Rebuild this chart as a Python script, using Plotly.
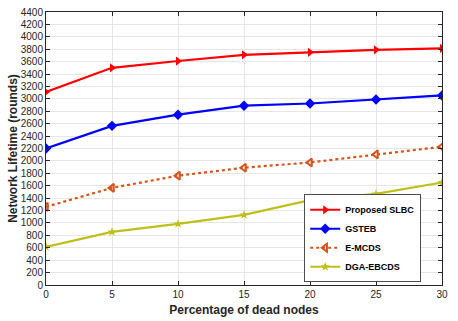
import plotly.graph_objects as go

x_vals = [0, 5, 10, 15, 20, 25, 30]
slbc = [3110, 3500, 3610, 3710, 3750, 3790, 3815]
gsteb = [2200, 2565, 2745, 2890, 2925, 2990, 3055]
emcds = [1260, 1565, 1762, 1890, 1975, 2105, 2228]
dga = [615, 855, 985, 1130, 1368, 1468, 1652]
y_ticks = list(range(0, 4401, 200))
x_ticks = [0, 5, 10, 15, 20, 25, 30]

font = "Liberation Sans, Arial, sans-serif"
fig = go.Figure()
fig.add_trace(go.Scatter(x=x_vals, y=slbc, name="Proposed SLBC", mode="lines+markers",
                         line=dict(color="#FF0000", width=2.2),
                         marker=dict(symbol="triangle-right", size=8, color="#FF0000")))
fig.add_trace(go.Scatter(x=x_vals, y=gsteb, name="GSTEB", mode="lines+markers",
                         line=dict(color="#0000FF", width=2.2),
                         marker=dict(symbol="diamond", size=8, color="#0000FF")))
fig.add_trace(go.Scatter(x=x_vals, y=emcds, name="E-MCDS", mode="lines+markers",
                         line=dict(color="#D95319", width=2.2, dash="dot"),
                         marker=dict(symbol="triangle-left-open", size=7, color="#D95319",
                                     line=dict(width=2))))
fig.add_trace(go.Scatter(x=x_vals, y=dga, name="DGA-EBCDS", mode="lines+markers",
                         line=dict(color="#BFBF1A", width=2.2),
                         marker=dict(symbol="star", size=7, color="#BFBF1A")))

axis_common = dict(showline=True, linecolor="#262626", linewidth=1, mirror="ticks",
                   ticks="inside", ticklen=4, tickcolor="#262626", automargin=False,
                   showgrid=True, gridcolor="#E6E6E6", gridwidth=1, zeroline=False,
                   tickfont=dict(family=font, size=10, color="#262626"))
fig.update_xaxes(range=[0, 30], tickvals=x_ticks,
                 title=dict(text="<b>Percentage of dead nodes</b>",
                            font=dict(family=font, size=12, color="#262626"), standoff=6),
                 tickprefix="<b>", ticksuffix="</b>", **axis_common)
fig.update_yaxes(range=[0, 4400], tickvals=y_ticks,
                 title=dict(text="<b>Network Lifetime (rounds)</b>",
                            font=dict(family=font, size=12, color="#262626"), standoff=0),
                 tickprefix="<b>", ticksuffix="</b>", **axis_common)
fig.update_layout(width=458, height=321, margin=dict(l=46, r=16, t=12, b=36),
                  paper_bgcolor="white", plot_bgcolor="white",
                  font=dict(family=font, color="#262626"),
                  legend=dict(x=0.652, y=0.01, xanchor="left", yanchor="bottom",
                              bgcolor="white", bordercolor="#4D4D4D", borderwidth=1,
                              font=dict(family=font, size=9, color="#000000"),
                              tracegroupgap=0, itemwidth=30))
fig.for_each_trace(lambda t: t.update(name="<b>" + t.name + "</b>"))
fig.write_html("out.html", config={"displayModeBar": False},
               post_script="document.body.style.margin='0';document.body.style.overflow='hidden';")
